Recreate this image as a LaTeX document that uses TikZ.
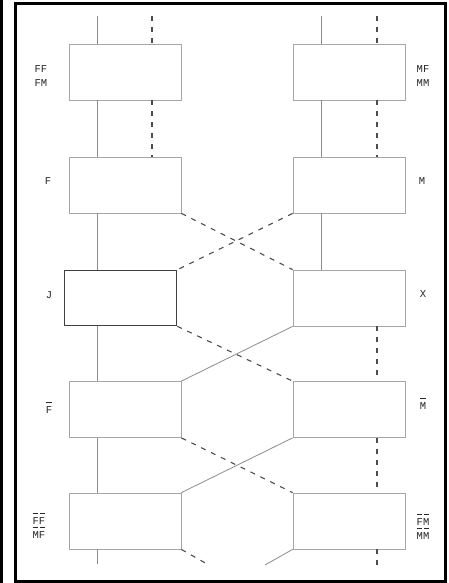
\documentclass[tikz,border=0pt]{standalone}
\usepackage{fontspec}
\newfontfamily\labfont{Liberation Mono}
\usetikzlibrary{calc}
\newlength\obw
\newcommand{\ob}[1]{\settowidth{\obw}{#1}\vbox{\hbox to\obw{\hss\rule{0.8\obw}{0.6pt}\hss}\kern-0.9pt\hbox{#1}}}
\begin{document}
\begin{tikzpicture}[x=1pt,y=-1pt,
  box/.style={draw=black!35,line width=0.8pt,minimum width=112pt,minimum height=56pt,inner sep=0pt,fill=white},
  jbox/.style={draw=black!75,line width=1.6pt,minimum width=112pt,minimum height=55pt,inner sep=0pt},
  sline/.style={draw=black!45,line width=0.8pt},
  dline/.style={draw=black!70,line width=1.1pt,dash pattern=on 5pt off 6pt},
  lab/.style={font=\labfont\fontsize{10.5}{12}\selectfont,text=black!85,inner sep=0pt,align=center}]
\useasboundingbox (0,0) rectangle (448,583);
\fill[white] (0,0) rectangle (448,583);
\fill[black] (0,0) rectangle (2.5,583);
\draw[black,line width=2.5pt] (15.5,3.5) rectangle (445.5,581.5);
% guide coordinates for vertical lines
\coordinate (vL) at (97,0);
\coordinate (dL) at (152,0);
\coordinate (vR) at (321,0);
\coordinate (dR) at (377,0);
% boxes
\node[box] (L1) at (125,72) {};
\node[box] (L2) at (125,185) {};
\node[jbox] (L3) at (120.5,298) {};
\node[box] (L4) at (125,409.5) {};
\node[box] (L5) at (125,521) {};
\node[box] (R1) at (349,72) {};
\node[box] (R2) at (349,185) {};
\node[box] (R3) at (349,298) {};
\node[box] (R4) at (349,409.5) {};
\node[box] (R5) at (349,521) {};
% free ends
\coordinate (tL) at (97,16);
\coordinate (tD) at (152,16);
\coordinate (tR) at (321,16);
\coordinate (tDR) at (377,16);
\coordinate (bL) at (97,564);
\coordinate (bD) at (207,564);
\coordinate (bS) at (265,565);
\coordinate (bDR) at (377,565);
% left solid verticals
\draw[sline] (tL) -- (L1.north-|vL);
\draw[sline] (L1.south-|vL) -- (L2.north-|vL);
\draw[sline] (L2.south-|vL) -- (L3.north-|vL);
\draw[sline] (L3.south-|vL) -- (L4.north-|vL);
\draw[sline] (L4.south-|vL) -- (L5.north-|vL);
\draw[sline] (L5.south-|vL) -- (bL);
% left dashed verticals
\draw[dline] (tD) -- (L1.north-|dL);
\draw[dline] (L1.south-|dL) -- (L2.north-|dL);
% right solid verticals
\draw[sline] (tR) -- (R1.north-|vR);
\draw[sline] (R1.south-|vR) -- (R2.north-|vR);
\draw[sline] (R2.south-|vR) -- (R3.north-|vR);
% right dashed verticals
\draw[dline] (tDR) -- (R1.north-|dR);
\draw[dline] (R1.south-|dR) -- (R2.north-|dR);
\draw[dline] (R3.south-|dR) -- (R4.north-|dR);
\draw[dline] (R4.south-|dR) -- (R5.north-|dR);
\draw[dline] (R5.south-|dR) -- (bDR);
% crossings
\draw[dline] (L2.south east) -- (R3.north west);
\draw[dline] (R2.south west) -- (L3.north east);
\draw[dline] (L3.south east) -- (R4.north west);
\draw[sline] (R3.south west) -- (L4.north east);
\draw[dline] (L4.south east) -- (R5.north west);
\draw[sline] (R4.south west) -- (L5.north east);
\draw[dline] (L5.south east) -- (bD);
\draw[sline] (R5.south west) -- (bS);
% labels
\node[lab] (lL1) at (41,76) {FF\\[2pt]FM};
\node[lab] (lL2) at (48,181) {F};
\node[lab] (lL3) at (49,295) {J};
\node[lab] (lL4) at (49,408) {\ob{F}};
\node[lab] (lL5) at (39,526) {\ob{F}\ob{F}\\[2pt]\ob{M}\ob{F}};
\node[lab] (lR1) at (423,76) {MF\\[2pt]MM};
\node[lab] (lR2) at (422,181) {M};
\node[lab] (lR3) at (423,294) {X};
\node[lab] (lR4) at (423,404) {\ob{M}};
\node[lab] (lR5) at (423,527) {\ob{F}\ob{M}\\[2pt]\ob{M}\ob{M}};
\end{tikzpicture}
\end{document}
